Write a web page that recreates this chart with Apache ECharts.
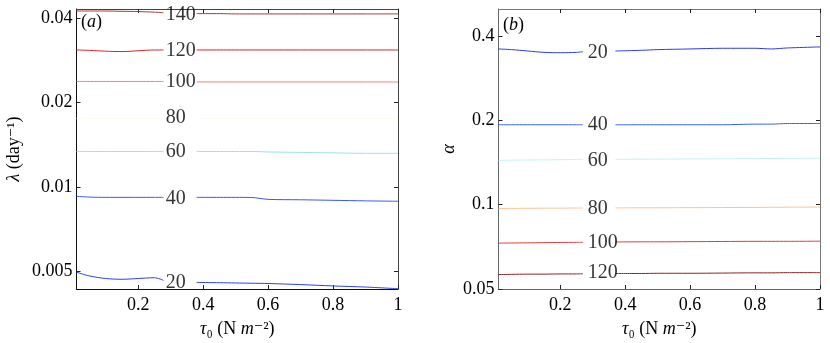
<!DOCTYPE html>
<html>
<head>
<meta charset="utf-8">
<script src="https://cdn.jsdelivr.net/npm/echarts@6/dist/echarts.min.js"></script>
<style>
  html, body { margin: 0; padding: 0; background: #fff; }
  #chart { width: 830px; height: 343px; }
</style>
</head>
<body>
<div id="chart"></div>
<script>
// sample points along tau0 (N m^-2); null = gap left for the contour label
var tauA = [0.01, 0.05, 0.1, 0.15, 0.2, 0.25, 0.278, 0.33, 0.38, 0.45, 0.5, 0.55, 0.6, 0.7, 0.8, 0.9, 1];
var tauB = [0.01, 0.05, 0.1, 0.15, 0.2, 0.25, 0.27, 0.32, 0.37, 0.45, 0.5, 0.6, 0.7, 0.8, 0.85, 0.9, 1];

// panel (a): lambda (day^-1) of each contour level
var levelsA = [20, 40, 60, 80, 100, 120, 140];
var lamA20  = [0.00498, 0.00483, 0.00473, 0.00470, 0.00473, 0.00476, 0.00466, null, 0.00458, 0.00457, 0.00456, 0.00455, 0.00454, 0.00450, 0.00445, 0.00441, 0.00435];
var lamA40  = [0.00928, 0.00922, 0.00920, 0.00920, 0.00920, 0.00920, 0.00920, null, 0.00920, 0.00920, 0.00920, 0.00919, 0.00905, 0.00902, 0.00898, 0.00894, 0.00891];
var lamA60  = [0.0134, 0.0134, 0.0134, 0.0134, 0.0134, 0.0134, 0.0134, null, 0.0134, 0.0134, 0.0134, 0.0134, 0.01335, 0.0133, 0.01325, 0.0132, 0.0132];
var lamA80  = [0.0176, 0.0176, 0.0176, 0.0176, 0.0176, 0.0176, 0.0176, null, 0.0176, 0.0176, 0.0176, 0.0176, 0.0176, 0.0176, 0.0176, 0.0176, 0.0176];
var lamA100 = [0.0238, 0.0238, 0.0238, 0.0238, 0.0238, 0.0238, 0.0238, null, 0.0237, 0.0237, 0.0237, 0.0237, 0.0237, 0.0237, 0.0237, 0.0237, 0.0237];
var lamA120 = [0.0308, 0.0307, 0.0305, 0.0304, 0.0306, 0.0308, 0.0308, null, 0.0308, 0.0308, 0.0308, 0.0308, 0.0308, 0.0308, 0.0308, 0.0308, 0.0308];
var lamA140 = [0.0424, 0.0424, 0.0424, 0.0423, 0.0422, 0.0420, 0.0418, null, 0.0415, 0.0415, 0.0414, 0.0414, 0.0414, 0.0414, 0.0414, 0.0414, 0.0414];
var labelLamA = [0.00456, 0.0091, 0.0134, 0.0176, 0.0237, 0.0305, 0.0411];

// panel (b): alpha of each contour level
var levelsB = [20, 40, 60, 80, 100, 120];
var alpB20  = [0.360, 0.358, 0.354, 0.350, 0.349, 0.350, 0.352, null, 0.354, 0.356, 0.358, 0.360, 0.362, 0.362, 0.360, 0.363, 0.366];
var alpB40  = [0.193, 0.193, 0.193, 0.193, 0.193, 0.193, 0.193, null, 0.193, 0.193, 0.193, 0.193, 0.193, 0.194, 0.194, 0.195, 0.195];
var alpB60  = [0.1440, 0.1442, 0.1444, 0.1446, 0.1448, 0.1450, 0.1450, null, 0.1452, 0.1454, 0.1455, 0.1457, 0.1459, 0.1461, 0.1462, 0.1463, 0.1465];
var alpB80  = [0.0969, 0.0970, 0.0971, 0.0972, 0.0972, 0.0973, 0.0973, null, 0.0974, 0.0975, 0.0975, 0.0976, 0.0977, 0.0978, 0.0979, 0.0980, 0.0981];
var alpB100 = [0.0729, 0.0730, 0.0731, 0.0732, 0.0733, 0.0734, 0.0734, null, 0.0736, 0.0737, 0.0737, 0.0738, 0.0739, 0.0740, 0.0740, 0.0740, 0.0741];
var alpB120 = [0.0563, 0.0564, 0.0565, 0.0565, 0.0566, 0.0566, 0.0567, null, 0.0568, 0.0568, 0.0569, 0.0569, 0.0570, 0.0571, 0.0571, 0.0572, 0.0572];
var labelAlpB = [0.349, 0.193, 0.144, 0.0969, 0.0731, 0.0570];

var labelTau = 0.285;

// axis ticks
var xTicks = [0.2, 0.4, 0.6, 0.8, 1];
var xTickText = ['0.2', '0.4', '0.6', '0.8', '1'];
var yTicksA = [0.005, 0.01, 0.02, 0.04];
var yTickTextA = ['0.005', '0.01', '0.02', '0.04'];
var yTicksB = [0.05, 0.1, 0.2, 0.4];
var yTickTextB = ['0.05', '0.1', '0.2', '0.4'];

var colorsA = ['#2b3ff2', '#3a55ee', '#98e2f2', '#fbfbee', '#f0806e', '#d42222', '#a73a3a'];
var colorsB = ['#2a3bf0', '#3a62ee', '#c4f2f2', '#f8c496', '#e03a3a', '#8e2222'];

var FONT = '"Liberation Serif", "DejaVu Serif", serif';
var lg = function (v) { return Math.log(v) / Math.LN2; };

function tickLabel(ticks, texts) {
    return function (v) {
        for (var i = 0; i < ticks.length; i++) {
            if (Math.abs(lg(ticks[i]) - v) < 1e-6 || Math.abs(ticks[i] - v) < 1e-9) return texts[i];
        }
        return '';
    };
}

function lineData(tau, vals) {
    return tau.map(function (t, i) {
        return vals[i] == null ? [t, '-'] : [t, lg(vals[i])];
    });
}

var chart = echarts.init(document.getElementById('chart'));

var xMin = 0.01, xMax = 1;
var yA = [0.00434, 0.0431];
var yB = [0.05, 0.5];

var nameStyle = {fontFamily: FONT, fontSize: 18, color: '#000',
    rich: {i: {fontFamily: FONT, fontSize: 18, fontStyle: 'italic', color: '#000'}}};

function xAxisCfg(grid, bottom, color) {
    return {
        type: 'value', gridIndex: grid, min: xMin, max: xMax,
        position: bottom ? 'bottom' : 'top',
        splitLine: {show: false},
        axisLine: {show: true, onZero: false, lineStyle: {color: color, width: 1}},
        axisTick: {show: true, inside: true, length: 4, customValues: xTicks, lineStyle: {color: '#222'}},
        axisLabel: bottom ? {
            show: true, customValues: xTicks, formatter: tickLabel(xTicks, xTickText),
            fontFamily: FONT, fontSize: 18, color: '#000', margin: 7
        } : {show: false},
        name: bottom ? '{i|τ}₀ (N {i|m}⁻²)' : '',
        nameLocation: 'middle', nameGap: 31,
        nameTextStyle: nameStyle
    };
}

function yAxisCfg(grid, left, ext, ticks, texts, color, name, gap) {
    var tv = ticks.map(lg);
    return {
        type: 'value', gridIndex: grid, min: lg(ext[0]), max: lg(ext[1]),
        position: left ? 'left' : 'right',
        splitLine: {show: false},
        axisLine: {show: true, onZero: false, lineStyle: {color: color, width: 1}},
        axisTick: {show: true, inside: true, length: 4, customValues: tv, lineStyle: {color: '#222'}},
        axisLabel: left ? {
            show: true, customValues: tv, formatter: tickLabel(ticks, texts),
            fontFamily: FONT, fontSize: 18, color: '#000', margin: 4
        } : {show: false},
        name: left ? name : '',
        nameLocation: 'middle', nameRotate: 90, nameGap: gap,
        nameTextStyle: nameStyle
    };
}

var series = [];
var linesA = [lamA20, lamA40, lamA60, lamA80, lamA100, lamA120, lamA140];
var linesB = [alpB20, alpB40, alpB60, alpB80, alpB100, alpB120];

linesA.forEach(function (vals, i) {
    series.push({
        type: 'line', name: 'a' + levelsA[i], xAxisIndex: 0, yAxisIndex: 0,
        data: lineData(tauA, vals), showSymbol: false, symbol: 'none', smooth: 0.3,
        lineStyle: {color: colorsA[i], width: 1}, silent: true
    });
});
linesB.forEach(function (vals, i) {
    series.push({
        type: 'line', name: 'b' + levelsB[i], xAxisIndex: 2, yAxisIndex: 2,
        data: lineData(tauB, vals), showSymbol: false, symbol: 'none', smooth: 0.3,
        lineStyle: {color: colorsB[i], width: 1}, silent: true
    });
});

function labelSeries(xi, yi, levels, ys) {
    return {
        type: 'scatter', xAxisIndex: xi, yAxisIndex: yi, symbolSize: 0, z: 5, silent: true,
        data: levels.map(function (lv, i) { return [labelTau, lg(ys[i]), lv]; }),
        label: {
            show: true, position: 'right', distance: 0,
            formatter: function (p) { return p.value[2]; },
            fontFamily: FONT, fontSize: 20, color: '#000'
        }
    };
}
series.push(labelSeries(0, 0, levelsA, labelLamA));
series.push(labelSeries(2, 2, levelsB, labelAlpB));

var panelTitle = {fontFamily: FONT, fontSize: 18, fontWeight: 'normal', color: '#000',
    rich: {i: {fontFamily: FONT, fontSize: 18, fontStyle: 'italic', color: '#000'}}};

var option = {
    animation: false,
    backgroundColor: '#fff',
    title: [
        {text: '({i|a})', left: 76, top: 8, textStyle: panelTitle},
        {text: '({i|b})', left: 498, top: 11, textStyle: panelTitle}
    ],
    grid: [
        {left: 76.5, top: 9, width: 321.5, height: 285},
        {left: 498.5, top: 9, width: 321.5, height: 285}
    ],
    xAxis: [
        xAxisCfg(0, true, '#111'),
        xAxisCfg(0, false, '#444'),
        xAxisCfg(1, true, '#666'),
        xAxisCfg(1, false, '#777')
    ],
    yAxis: [
        yAxisCfg(0, true, yA, yTicksA, yTickTextA, '#111', '{i|λ} (day⁻¹)', 53),
        yAxisCfg(0, false, yA, yTicksA, yTickTextA, '#444', '', 0),
        yAxisCfg(1, true, yB, yTicksB, yTickTextB, '#666', '{i|α}', 40),
        yAxisCfg(1, false, yB, yTicksB, yTickTextB, '#777', '', 0)
    ],
    series: series
};

chart.setOption(option);
</script>
</body>
</html>
